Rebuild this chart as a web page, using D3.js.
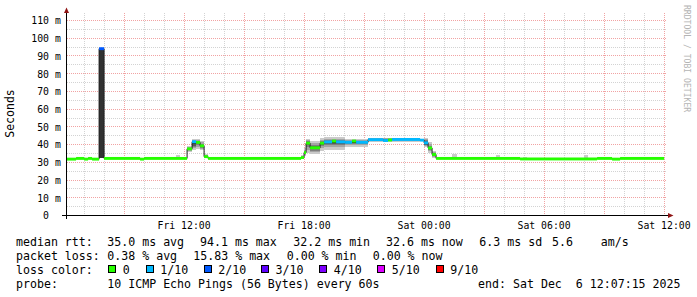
<!DOCTYPE html>
<html><head><meta charset="utf-8">
<script src="https://cdn.jsdelivr.net/npm/d3@7"></script>
<style>
body{margin:0;background:#fff}
svg{display:block}
text{font-family:"DejaVu Sans Mono",monospace;white-space:pre}
</style>
</head><body>
<svg id="chart" width="697" height="297"></svg>
<script>
// ---------- data ----------
const startTime = "2025-12-05T06:07:15";
const endTime   = "2025-12-06T12:07:15";
const dataEnd   = "2025-12-06T12:00";
const yMax = 113.95;

const xTickTimes  = ["2025-12-05T12:00","2025-12-05T18:00","2025-12-06T00:00","2025-12-06T06:00","2025-12-06T12:00"];
const xTickLabels = ["Fri 12:00","Fri 18:00","Sat 00:00","Sat 06:00","Sat 12:00"];
const yTickValues = [0,10,20,30,40,50,60,70,80,90,100,110];
const yTickLabels = ["0  ","10 m","20 m","30 m","40 m","50 m","60 m","70 m","80 m","90 m","100 m","110 m"];

// median rtt (ms), step-after, with lost pings out of 10
const medianTimes = [
 "2025-12-05T06:07","2025-12-05T06:36","2025-12-05T07:00","2025-12-05T07:12","2025-12-05T07:24",
 "2025-12-05T07:45","2025-12-05T08:00","2025-12-05T09:48","2025-12-05T10:00","2025-12-05T12:09",
 "2025-12-05T12:24","2025-12-05T12:36","2025-12-05T12:48","2025-12-05T13:00","2025-12-05T13:12",
 "2025-12-05T17:51","2025-12-05T18:00","2025-12-05T18:06","2025-12-05T18:18","2025-12-05T18:48",
 "2025-12-05T19:00","2025-12-05T19:24","2025-12-05T19:36","2025-12-05T20:03","2025-12-05T20:24",
 "2025-12-05T20:36","2025-12-05T21:12","2025-12-05T21:57","2025-12-05T22:12","2025-12-05T22:24",
 "2025-12-05T23:48","2025-12-06T00:00","2025-12-06T00:12","2025-12-06T00:24","2025-12-06T00:36",
 "2025-12-06T04:48","2025-12-06T08:39","2025-12-06T09:24","2025-12-06T09:48"];
const medianValues = [
 31.8,32.2,31.8,32.2,31.8,
 94.1,32.2,31.8,32.2,37.6,
 41.6,41.2,39.3,33.2,32.2,
 32.7,35.5,40.8,38.2,40.8,
 41.5,42.0,41.5,41.3,42.0,
 41.3,42.8,42.3,42.6,42.9,
 42.5,41.0,38.1,34.4,32.2,
 31.9,32.2,31.8,32.2];
const medianLoss = [
 0,0,0,0,0,
 2,0,0,0,0,
 1,0,0,0,0,
 0,0,0,0,0,
 1,0,1,1,0,
 1,1,1,0,1,
 1,1,0,0,0,
 0,0,0,0];

// smoke: sorted ping rtts (ms) of 10 pings for each interval
const smokeStart = ["2025-12-05T07:45","2025-12-05T11:36","2025-12-05T12:09","2025-12-05T12:24","2025-12-05T12:36",
 "2025-12-05T12:48","2025-12-05T13:00","2025-12-05T17:51","2025-12-05T18:00","2025-12-05T18:06",
 "2025-12-05T18:18","2025-12-05T18:48","2025-12-05T19:00","2025-12-05T20:03","2025-12-05T21:12",
 "2025-12-06T00:00","2025-12-06T00:12","2025-12-06T00:24","2025-12-06T01:24","2025-12-06T03:36",
 "2025-12-06T04:57","2025-12-06T08:00","2025-12-06T11:39"];
const smokeEnd = ["2025-12-05T08:00","2025-12-05T11:48","2025-12-05T12:24","2025-12-05T12:36","2025-12-05T12:48",
 "2025-12-05T13:00","2025-12-05T13:12","2025-12-05T18:00","2025-12-05T18:06","2025-12-05T18:18",
 "2025-12-05T18:48","2025-12-05T19:00","2025-12-05T20:03","2025-12-05T21:12","2025-12-05T23:48",
 "2025-12-06T00:12","2025-12-06T00:24","2025-12-06T00:36","2025-12-06T01:39","2025-12-06T03:48",
 "2025-12-06T05:09","2025-12-06T08:12","2025-12-06T11:57"];
const smokePings = [
 [32.2,32.3,32.3,32.3,32.4,94.0,94.1,94.1,94.1,94.2],
 [32.1,32.2,32.2,32.2,32.3,32.3,32.3,32.4,32.5,34.4],
 [35.6,36.4,37.0,37.3,37.5,37.7,37.9,38.3,38.8,39.4],
 [36.8,37.9,38.6,39.4,40.6,41.2,41.6,42.0,42.5,43.0],
 [37.5,38.7,39.6,40.3,40.8,41.2,41.5,41.9,42.4,43.0],
 [36.8,37.6,38.3,38.8,39.1,39.5,40.0,40.6,41.2,42.0],
 [32.3,32.5,32.8,33.0,33.1,33.3,33.5,33.8,34.0,34.6],
 [32.3,32.4,32.5,32.6,32.7,32.8,32.9,33.1,33.4,33.9],
 [33.6,34.2,34.6,35.0,35.3,35.6,36.0,36.5,37.2,38.0],
 [35.5,37.0,38.5,39.6,40.4,41.0,41.4,41.8,42.4,43.2],
 [34.8,35.8,36.6,37.3,37.9,38.4,39.0,39.7,40.8,42.2],
 [36.5,38.0,39.2,40.0,40.6,41.0,41.5,42.0,42.8,43.8],
 [37.2,38.6,39.6,40.4,41.1,41.6,42.0,42.5,43.2,44.2],
 [38.5,39.5,40.2,40.7,41.1,41.4,41.7,42.1,42.6,43.3],
 [41.5,42.0,42.4,42.6,42.8,43.0,43.1,43.3,43.5,43.8],
 [38.8,39.3,39.6,40.0,40.3,41.5,42.3,42.7,43.0,43.6],
 [35.5,36.2,36.8,37.3,37.8,38.3,38.8,39.4,40.2,41.2],
 [32.6,33.0,33.4,33.8,34.2,34.6,35.0,35.4,35.9,36.6],
 [32.1,32.2,32.2,32.2,32.3,32.3,32.3,32.4,32.6,34.5],
 [32.1,32.2,32.2,32.2,32.3,32.3,32.3,32.4,32.6,34.0],
 [32.1,32.2,32.2,32.2,32.3,32.3,32.3,32.4,32.5,33.2],
 [32.1,32.2,32.2,32.2,32.3,32.3,32.3,32.4,32.6,34.0],
 [32.1,32.2,32.2,32.2,32.3,32.3,32.3,32.4,32.5,33.2]];

const lossLevels = [0,1,2,3,4,5,9];
const lossLabels = ["0","1/10","2/10","3/10","4/10","5/10","9/10"];
const lossColors = ["#26ff00","#00b8ff","#0059ff","#5e00ff","#7e00ff","#dd00ff","#ff0000"];
const smokeShades = ["#cacaca","#a4a4a4","#7e7e7e","#585858","#323232"];

const legendRtt  = ["median rtt:","35.0 ms avg","94.1 ms max","32.2 ms min","32.6 ms now","6.3 ms sd","5.6","am/s"];
const legendLoss = ["packet loss:","0.38 % avg","15.83 % max","0.00 % min","0.00 % now"];
const legendColorTitle = "loss color:";
const legendProbe = ["probe:","10 ICMP Echo Pings (56 Bytes) every 60s"];
const legendEnd = "end: Sat Dec  6 12:07:15 2025";
const yTitle = "Seconds";
const watermark = "RRDTOOL / TOBI OETIKER";

// ---------- drawing ----------
const pMin = d3.timeParse("%Y-%m-%dT%H:%M");
const pSec = d3.timeParse("%Y-%m-%dT%H:%M:%S");
const svg = d3.select("#chart");
svg.append("rect").attr("width",697).attr("height",297).attr("fill","#fff");

const t0 = pSec(startTime), t1 = pSec(endTime);
const x = d3.scaleTime().domain([t0,t1]).range([66.5,666.5]);
const y = d3.scaleLinear().domain([0,yMax]).range([215.5,13.5]);
const TOP = 13, BOT = 215, LEFT = 66, RIGHT = 667;

// grid
const grid = svg.append("g");
d3.timeHour.range(t0,t1).forEach(h=>{
  const gx = Math.round(x(h)) + 0.5;
  const major = h.getHours()%3===0;
  grid.append("line").attr("x1",gx).attr("x2",gx).attr("y1",TOP).attr("y2",BOT)
    .attr("stroke", major ? "rgba(215,0,0,0.36)" : "rgba(150,150,150,0.42)")
    .attr("stroke-dasharray","1,1");
});
d3.range(5,yMax,5).forEach(v=>{
  const gy = Math.round(y(v)-0.5)+0.5;
  const major = v%10===0;
  grid.append("line").attr("x1",LEFT+1).attr("x2",RIGHT).attr("y1",gy).attr("y2",gy)
    .attr("stroke", major ? "rgba(215,0,0,0.36)" : "rgba(150,150,150,0.42)")
    .attr("stroke-dasharray","1,1");
});

// smoke
const smoke = svg.append("g");
smokePings.forEach((pings,i)=>{
  const xs = x(pMin(smokeStart[i])), xe = x(pMin(smokeEnd[i]));
  for (let k=0;k<5;k++){
    const lo = pings[k], hi = pings[9-k];
    smoke.append("rect").attr("x",xs).attr("width",xe-xs)
      .attr("y",y(hi)).attr("height",Math.max(0,y(lo)-y(hi)))
      .attr("fill",smokeShades[k]).attr("shape-rendering","crispEdges");
  }
});

// median line (black, step) and loss-coloured band
const med = medianTimes.map((t,i)=>({t:pMin(t), v:medianValues[i], l:medianLoss[i]}));
const endD = pMin(dataEnd);
const linePts = med.concat([{t:endD, v:medianValues[medianValues.length-1]}]);
svg.append("path").datum(linePts)
  .attr("d", d3.line().x(d=>x(d.t)).y(d=>y(d.v)).curve(d3.curveStepAfter))
  .attr("fill","none").attr("stroke","#202020").attr("stroke-width",1);

const band = svg.append("g");
med.forEach((d,i)=>{
  const xs = x(d.t), xe = x(i+1<med.length ? med[i+1].t : endD);
  let ci = 0;
  lossLevels.forEach((lv,j)=>{ if (d.l>=lv) ci=j; });
  band.append("rect").attr("x",xs).attr("width",xe-xs)
    .attr("y",y(d.v)-1.45).attr("height",2.9).attr("fill",lossColors[ci]);
});

// axes
const axis = svg.append("g");
axis.append("line").attr("x1",62).attr("x2",668).attr("y1",215.5).attr("y2",215.5).attr("stroke","#000");
axis.append("line").attr("x1",66.5).attr("x2",66.5).attr("y1",219).attr("y2",12).attr("stroke","#000");
axis.append("path").attr("d","M64,13 L69,13 L66.5,7.5 Z").attr("fill","#8f1414");
axis.append("path").attr("d","M668,213 L668,218 L673.5,215.5 Z").attr("fill","#8f1414");

// tick labels
const tickFont = "9.8px";
yTickValues.forEach((v,i)=>{
  svg.append("text").attr("x",60.8).attr("y",y(v)+3.9).attr("text-anchor","end")
    .attr("font-size",tickFont).attr("fill","#000").text(yTickLabels[i]);
});
xTickTimes.forEach((t,i)=>{
  svg.append("text").attr("x",x(pMin(t))).attr("y",228.5).attr("text-anchor","middle")
    .attr("font-size",tickFont).attr("fill","#000").text(xTickLabels[i]);
});

// y title
svg.append("text").attr("transform","translate(14,113.5) rotate(-90)").attr("text-anchor","middle")
  .attr("font-size","11.5px").attr("fill","#000").text(yTitle);

// watermark
svg.append("text").attr("transform","translate(683.5,5) rotate(90)").attr("text-anchor","start")
  .attr("font-size","8.1px").attr("fill","#b4b4b4").text(watermark);

// legend
const lf = "11.6px";
const row1X = [16,107.3,200,293.3,386,479.3,552,600.7];
legendRtt.forEach((s,i)=> svg.append("text").attr("x",row1X[i]).attr("y",245.5).attr("font-size",lf).text(s));
const row2X = [16,107.3,193.3,286.7,372.7];
legendLoss.forEach((s,i)=> svg.append("text").attr("x",row2X[i]).attr("y",259.5).attr("font-size",lf).text(s));
svg.append("text").attr("x",16).attr("y",273.5).attr("font-size",lf).text(legendColorTitle);
const boxX = [108.3,145.7,203.7,261,319.3,377.3,435.7];
lossLabels.forEach((s,i)=>{
  svg.append("rect").attr("x",Math.round(boxX[i])+0.5).attr("y",265.5).attr("width",7).attr("height",7)
    .attr("fill",lossColors[i]).attr("stroke","#000").attr("stroke-width",1);
  svg.append("text").attr("x",boxX[i]+14.5).attr("y",273.5).attr("font-size",lf).text(s);
});
svg.append("text").attr("x",16).attr("y",287.5).attr("font-size",lf).text(legendProbe[0]);
svg.append("text").attr("x",107.3).attr("y",287.5).attr("font-size",lf).text(legendProbe[1]);
svg.append("text").attr("x",680.5).attr("y",287.5).attr("text-anchor","end").attr("font-size",lf).text(legendEnd);
</script>
</body></html>
